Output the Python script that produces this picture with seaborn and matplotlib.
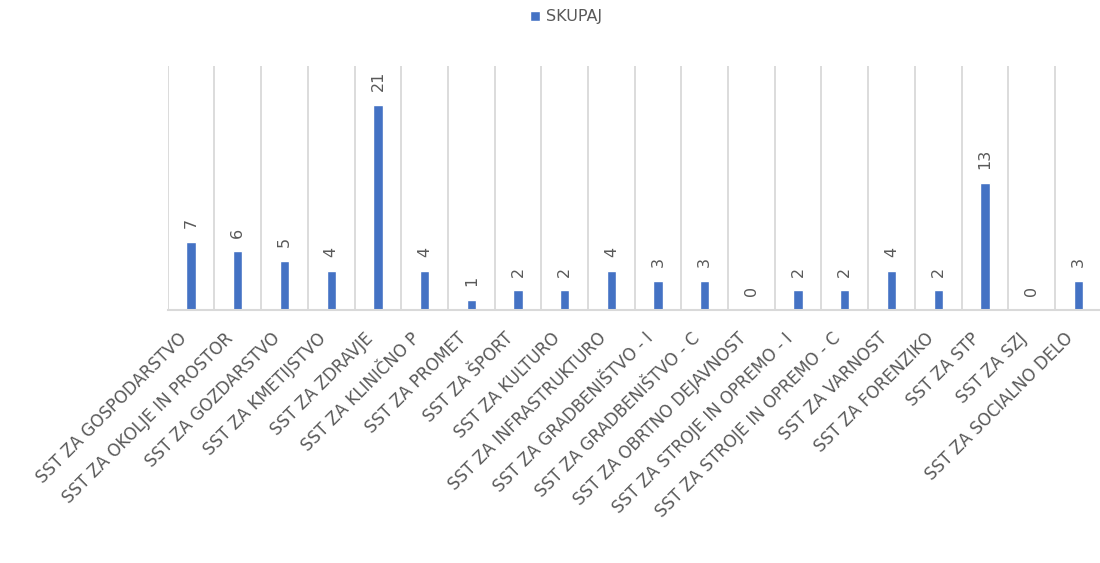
import pandas as pd
import numpy as np
import matplotlib
matplotlib.use("Agg")
import matplotlib.pyplot as plt
import matplotlib.transforms as mtransforms
import seaborn as sns

sns.set_style("white")
plt.rcParams['font.family'] = ['DejaVu Sans']

# Data
kategorije = ['SST ZA GOSPODARSTVO', 'SST ZA OKOLJE IN PROSTOR', 'SST ZA GOZDARSTVO',
              'SST ZA KMETIJSTVO', 'SST ZA ZDRAVJE', 'SST ZA KLINIČNO P', 'SST ZA PROMET',
              'SST ZA ŠPORT', 'SST ZA KULTURO', 'SST ZA INFRASTRUKTURO',
              'SST ZA GRADBENIŠTVO - I', 'SST ZA GRADBENIŠTVO - C', 'SST ZA OBRTNO DEJAVNOST',
              'SST ZA STROJE IN OPREMO - I', 'SST ZA STROJE IN OPREMO - C', 'SST ZA VARNOST',
              'SST ZA FORENZIKO', 'SST ZA STP', 'SST ZA SZJ', 'SST ZA SOCIALNO DELO']
skupaj = [7, 6, 5, 4, 21, 4, 1, 2, 2, 4, 3, 3, 0, 2, 2, 4, 2, 13, 0, 3]

df = pd.DataFrame({'kategorija': kategorije, 'skupaj': skupaj})

grey = '#595959'
bar_color = '#4472C4'

fig = plt.figure(figsize=(11, 5.63), dpi=100)
ax = fig.add_axes([0.1525, 0.4494, 0.849, 0.4334])

sns.barplot(data=df, x='kategorija', y='skupaj', color=bar_color, width=0.2,
            label='SKUPAJ', ax=ax, saturation=1)

ax.set_xlim(-0.5, len(kategorije) - 0.5)
ax.set_ylim(0, 25)

# vertical gridlines between categories
ax.set_xticks(np.arange(-0.5, len(kategorije)), minor=True)
ax.grid(which='minor', axis='x', color='#d9d9d9', linewidth=1.3)
ax.grid(which='major', visible=False)
ax.tick_params(which='both', length=0)

for side in ['top', 'left', 'right']:
    ax.spines[side].set_visible(False)
ax.spines['bottom'].set_color('#d9d9d9')
ax.spines['bottom'].set_linewidth(1.5)

ax.set_yticks([])
ax.set_xlabel('')
ax.set_ylabel('')

# rotated category labels
ax.tick_params(axis='x', pad=14)
offset = mtransforms.ScaledTranslation(-10 / 72, 0, fig.dpi_scale_trans)
for lab in ax.get_xticklabels():
    lab.set_rotation(45)
    lab.set_ha('right')
    lab.set_va('top')
    lab.set_rotation_mode('anchor')
    lab.set_fontsize(12)
    lab.set_color(grey)
    lab.set_transform(lab.get_transform() + offset)

# value labels above bars
for i, v in enumerate(skupaj):
    ax.annotate(str(v), xy=(i, v), xytext=(0, 10), textcoords='offset points',
                rotation=90, ha='center', va='bottom', fontsize=11.5, color=grey)

ax.legend(loc='center', bbox_to_anchor=(0.515, 0.97), bbox_transform=fig.transFigure,
          frameon=False, fontsize=11.5, labelcolor=grey, handlelength=0.6,
          handleheight=0.6, handletextpad=0.4)

fig.savefig('out.png', dpi=100)
